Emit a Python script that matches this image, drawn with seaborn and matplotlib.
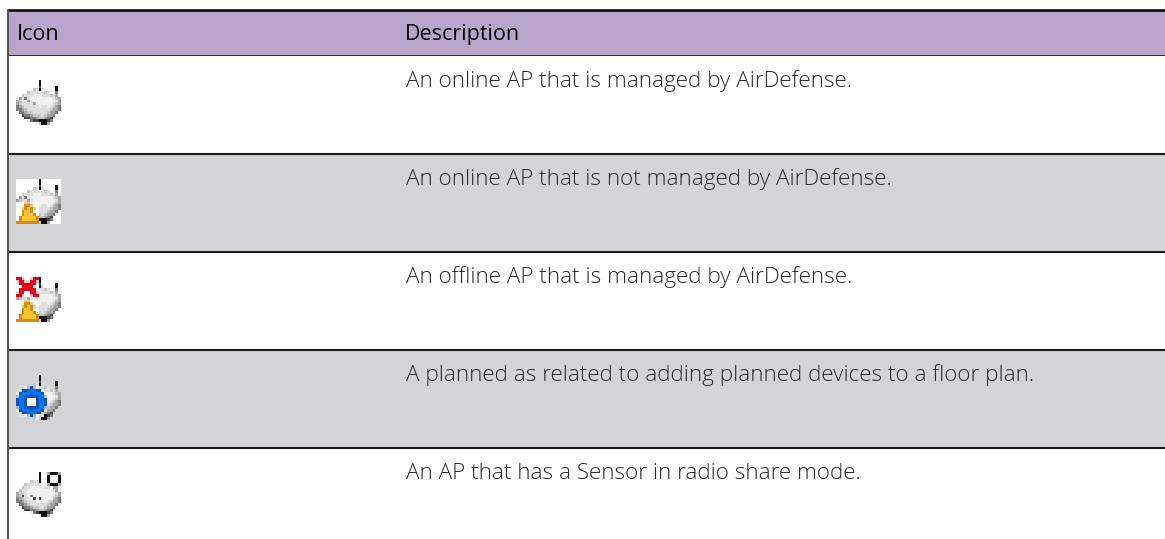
import numpy as np
import matplotlib
matplotlib.use("Agg")
import matplotlib.pyplot as plt
import seaborn as sns
from matplotlib.colors import ListedColormap

W, H = 1165, 539

headers = ["Icon", "Description"]
descriptions = [
    "An online AP that is managed by AirDefense.",
    "An online AP that is not managed by AirDefense.",
    "An offline AP that is managed by AirDefense.",
    "A planned as related to adding planned devices to a floor plan.",
    "An AP that has a Sensor in radio share mode.",
]
row_shade = [0, 1, 0, 1, 0]

# icon pixels, 16x16, one letter per colour
palette = {
    ".": "#ffffff", "g": "#d4d4d6", "a": "#f0f0f0", "b": "#dedede", "c": "#c4c4c4",
    "d": "#a4a4a4", "e": "#7c7c7c", "f": "#484848", "k": "#101010",
    "y": "#fcc436", "o": "#d88c08", "p": "#f0c88c",
    "r": "#e8001c", "q": "#f8c8cc",
    "B": "#0078f0", "D": "#1450bc", "L": "#9cc0e8",
}
ap_body = [
    "........k.......",
    "........k.......",
    "........f.....k.",
    "......cbkb....k.",
    "....cbbbbbcb..e.",
    "..cbbbaaabbbcbd.",
    ".dbebaaaaaaaabcd",
    "dcbbdbaaaaaaaabd",
    "dcbbbbdaaaaaabcd",
    "edcbbbbbabbabcde",
    "eedcbbbbbbbbcdde",
    ".eedccbbbbbcdde.",
    "..feedcccbcdde..",
    "...ffeedccdef...",
    "....aeffkkkfe...",
    ".......ackkd....",
]
ap_sensor = [
    "........k..dkkkd",
    "........k..k...k",
    "........k..k...k",
    ".....cbbk..k...k",
    "...cbbbbb..dkkkd",
    "..cbbaaaaabb.dd.",
    ".cbbaaaaaaaaabd.",
    "dcbbaaaaaaaaaabd",
    "dcfbaeaaaaaaabcd",
    "edcbbafafaaaacde",
    "eedcbbbaaaabcdde",
    ".eedcbbbbbbcdde.",
    "..feedccbbcdde..",
    "...ffeedccdef...",
    ".....aefkkkfe...",
    "........akkd....",
]
warning = [
    "...pp...",
    "...oop..",
    "..poyop.",
    "..oyyo..",
    "..oyyyo.",
    ".oyyyyyo",
    ".oyyyyyo",
    "oooooooo",
]
cross = [
    "rrq..qrr",
    "qrrq.rrq",
    ".rrrrrr.",
    "..rrrr..",
    ".rrrrrr.",
    "qrr..rrq",
    "rrq..qrr",
]
gear = [
    "_bbaLDLabb_",
    "_bDDBBBDDa_",
    "aDBBBDBBBDa",
    "LBBDDDDDBBL",
    "DBBD...DBBD",
    "DBBD...DBBD",
    "DBBD...DBBD",
    "LBBDDDDDBBL",
    "aDBBBDBBBDa",
    "_bDDBBBDDb_",
    "_bbaLDLabb_",
]

sns.set_theme(style="white")
plt.rcParams["font.family"] = ["Open Sans", "DejaVu Sans"]

fig = plt.figure(figsize=(W / 100, H / 100), dpi=100, facecolor="white")
keys = list(palette)
icon_cmap = ListedColormap([palette[k] for k in keys])


def px_axes(x0, y0, x1, y1):
    return fig.add_axes([x0 / W, 1 - y1 / H, (x1 - x0) / W, (y1 - y0) / H])


def stamp(base, layer, col, row):
    grid = [list(r) for r in base]
    for j, r in enumerate(layer):
        for i, c in enumerate(r):
            if c != "_":
                grid[row + j][col + i] = c
    return grid


def draw_icon(grid, x, y):
    ax = px_axes(x, y, x + 45, y + 45)
    vals = np.array([[keys.index(c) for c in r] for r in grid])
    sns.heatmap(vals, cmap=icon_cmap, vmin=-0.5, vmax=len(keys) - 0.5, cbar=False, ax=ax,
                xticklabels=False, yticklabels=False)


# header band
ax_head = px_axes(8, 10, W, 56)
sns.heatmap([[0]], cmap=ListedColormap(["#b9a5cb"]), cbar=False, ax=ax_head, xticklabels=False, yticklabels=False)
ax_head.text(9 / (W - 8), 0.35, headers[0], color="black", fontsize=15.5, va="baseline", transform=ax_head.transAxes)
ax_head.text((405 - 8) / (W - 8), 0.35, headers[1], color="black", fontsize=15.5, va="baseline", transform=ax_head.transAxes)
ax_head.axhline(0, color="black", lw=1.8, clip_on=False)
ax_head.axhline(1, color="black", lw=1.8, clip_on=False)

# body rows
ax_body = px_axes(8, 56, W, 546)
sns.heatmap(np.array(row_shade).reshape(-1, 1), cmap=ListedColormap(["white", "#d4d4d6"]), cbar=False,
            ax=ax_body, xticklabels=False, yticklabels=False)
for i, d in enumerate(descriptions):
    ax_body.text((406 - 8) / (W - 8), i + 0.32, d, color="#2a2a2a", fontsize=16.2, weight="light", va="baseline",
                 transform=ax_body.get_yaxis_transform())
for y in [1, 2, 3, 4]:
    ax_body.axhline(y, color="#1a1a1a", lw=1.5, clip_on=False)
ax_body.axvline(0, color="#555555", lw=1.5, clip_on=False)
ax_head.axvline(0, color="#555555", lw=1.5, clip_on=False)

# icons
draw_icon(ap_body, 16, 80)
draw_icon(stamp(ap_body, warning, 0, 8), 16, 179)
draw_icon(stamp(stamp(ap_body, warning, 0, 8), cross, 0, 0), 16, 277)
draw_icon(stamp([r.replace(".", "g") for r in ap_body], gear, 0, 4), 16, 375)
draw_icon(ap_sensor, 16, 472)

fig.savefig("out.png", dpi=100)
